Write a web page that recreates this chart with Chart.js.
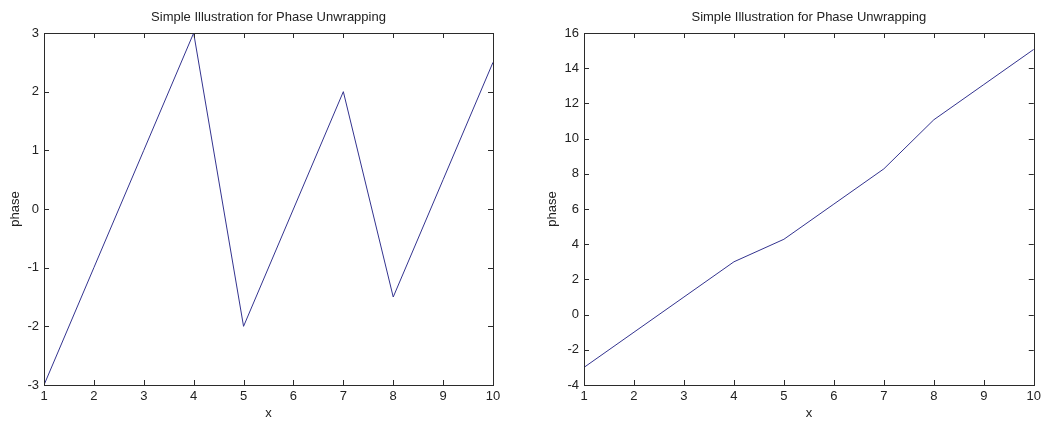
<!DOCTYPE html>
<html>
<head>
<meta charset="utf-8">
<script src="https://cdn.jsdelivr.net/npm/chart.js@4/dist/chart.umd.min.js"></script>
<style>
    html, body { margin: 0; padding: 0; background: #fff; }
    #wrap { position: relative; width: 1045px; height: 421px; overflow: hidden; }
    canvas { position: absolute; top: 0; }
</style>
</head>
<body>
<div id="wrap">
    <canvas id="leftChart" width="522" height="421" style="left:0"></canvas>
    <canvas id="rightChart" width="523" height="421" style="left:522px"></canvas>
</div>
<script>
// data
const xValues = [1, 2, 3, 4, 5, 6, 7, 8, 9, 10];
const wrappedPhase = [-3, -1, 1, 3, -2, 0, 2, -1.5, 0.5, 2.5];
const unwrappedPhase = [-3, -1, 1, 3, 4.28, 6.28, 8.28, 11.07, 13.07, 15.07];
const leftYTicks = [-3, 3, 1];   // min, max, step
const rightYTicks = [-4, 16, 2];

const chartTitle = 'Simple Illustration for Phase Unwrapping';
const textColor = '#222';
const lineColor = '#33338f';
const fontFamily = "'Liberation Sans', Arial, sans-serif";

// matlab style box with inward ticks on all four sides
const boxPlugin = {
    id: 'matlabBox',
    afterDraw(chart) {
        const { ctx, chartArea: a, scales } = chart;
        const len = 5;
        ctx.save();
        ctx.strokeStyle = '#2b2b2b';
        ctx.lineWidth = 1;
        ctx.strokeRect(Math.round(a.left) + 0.5, Math.round(a.top) + 0.5,
            Math.round(a.right - a.left), Math.round(a.bottom - a.top));
        ctx.beginPath();
        scales.x.ticks.forEach(t => {
            const px = Math.round(scales.x.getPixelForValue(t.value)) + 0.5;
            ctx.moveTo(px, a.bottom); ctx.lineTo(px, a.bottom - len);
            ctx.moveTo(px, a.top); ctx.lineTo(px, a.top + len);
        });
        scales.y.ticks.forEach(t => {
            const py = Math.round(scales.y.getPixelForValue(t.value)) + 0.5;
            ctx.moveTo(a.left, py); ctx.lineTo(a.left + len, py);
            ctx.moveTo(a.right, py); ctx.lineTo(a.right - len, py);
        });
        ctx.stroke();
        ctx.restore();
    }
};

function makeChart(canvasId, values, yTicks, yAxisWidth, rightPad, yTitlePad) {
    const ctx = document.getElementById(canvasId).getContext('2d');
    return new Chart(ctx, {
        type: 'line',
        data: {
            datasets: [{
                data: xValues.map((x, i) => ({ x: x, y: values[i] })),
                borderColor: lineColor,
                borderWidth: 1,
                pointRadius: 0,
                tension: 0,
                fill: false
            }]
        },
        options: {
            responsive: false,
            animation: false,
            layout: { padding: { left: 0, right: rightPad, top: 0, bottom: 0 } },
            plugins: {
                legend: { display: false },
                tooltip: { enabled: false },
                title: {
                    display: true,
                    text: chartTitle,
                    fullSize: false,
                    color: textColor,
                    font: { family: fontFamily, size: 13, weight: 'normal' },
                    padding: { top: 9.2, bottom: 8.2 }
                }
            },
            scales: {
                x: {
                    type: 'linear',
                    min: 1,
                    max: 10,
                    grid: { display: false, drawTicks: false },
                    border: { display: false },
                    ticks: {
                        stepSize: 1,
                        autoSkip: false,
                        maxRotation: 0,
                        padding: 4,
                        color: textColor,
                        font: { family: fontFamily, size: 13 }
                    },
                    title: {
                        display: true,
                        text: 'x',
                        color: textColor,
                        font: { family: fontFamily, size: 13 },
                        padding: { top: 0, bottom: 0.2 }
                    },
                    afterFit: scale => { scale.height = 36; }
                },
                y: {
                    type: 'linear',
                    min: yTicks[0],
                    max: yTicks[1],
                    grid: { display: false, drawTicks: false },
                    border: { display: false },
                    ticks: {
                        stepSize: yTicks[2],
                        autoSkip: false,
                        padding: 5,
                        color: textColor,
                        font: { family: fontFamily, size: 13 }
                    },
                    title: {
                        display: true,
                        text: 'phase',
                        color: textColor,
                        font: { family: fontFamily, size: 13 },
                        padding: { top: yTitlePad, bottom: 0 }
                    },
                    afterFit: scale => { scale.width = yAxisWidth; }
                }
            }
        },
        plugins: [boxPlugin]
    });
}

makeChart('leftChart', wrappedPhase, leftYTicks, 44, 29, 7.2);
makeChart('rightChart', unwrappedPhase, rightYTicks, 62, 10, 22.2);
</script>
</body>
</html>
